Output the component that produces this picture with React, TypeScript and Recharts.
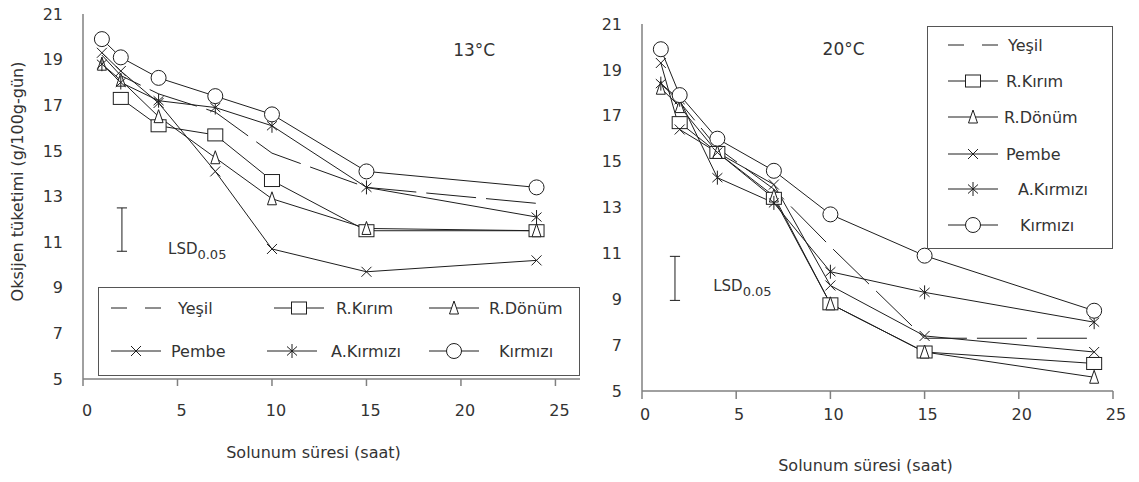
import React from 'react';
import { LineChart, Line, XAxis, YAxis, Legend, ReferenceLine, ReferenceDot } from 'recharts';

const FONT = '"DejaVu Sans", sans-serif';
const INK = '#1e1e1e';
const AXIS = '#808080';

// sampling times (saat)
const hours = [1, 2, 4, 7, 10, 15, 24];
const xTicks = [0, 5, 10, 15, 20, 25];
const yTicks = [5, 7, 9, 11, 13, 15, 17, 19, 21];

// 13°C
const yesil13 = [19.2, 18.3, 17.5, 16.7, 14.9, 13.4, 12.7];
const rKirim13 = [null, 17.3, 16.1, 15.7, 13.7, 11.5, 11.5];
const rDonum13 = [18.8, 18.1, 16.5, 14.7, 12.9, 11.6, 11.5];
const pembe13 = [19.3, 18.5, 17.1, 14.1, 10.7, 9.7, 10.2];
const aKirmizi13 = [18.8, 18.0, 17.2, 16.9, 16.1, 13.4, 12.1];
const kirmizi13 = [19.9, 19.1, 18.2, 17.4, 16.6, 14.1, 13.4];

// 20°C
const yesil20 = [18.4, 17.6, 15.6, 13.8, 11.3, 7.3, 7.3];
const rKirim20 = [null, 16.7, 15.4, 13.4, 8.8, 6.7, 6.2];
const rDonum20 = [18.2, 17.4, 15.4, 13.5, 8.8, 6.7, 5.6];
const pembe20 = [19.3, 16.4, 15.4, 14.0, 9.6, 7.4, 6.7];
const aKirmizi20 = [18.4, 17.7, 14.3, 13.2, 10.2, 9.3, 8.0];
const kirmizi20 = [19.9, 17.9, 16.0, 14.6, 12.7, 10.9, 8.5];

// LSD 0.05 bars: x position, low, high
const lsd13 = { x: 2.06, low: 10.6, high: 12.5 };
const lsd20 = { x: 1.75, low: 8.95, high: 10.87 };

type Shape = 'none' | 'square' | 'triangle' | 'x' | 'star' | 'circle';

const SERIES: { key: string; name: string; shape: Shape }[] = [
  { key: 'yesil', name: 'Yeşil', shape: 'none' },
  { key: 'rKirim', name: 'R.Kırım', shape: 'square' },
  { key: 'rDonum', name: 'R.Dönüm', shape: 'triangle' },
  { key: 'pembe', name: 'Pembe', shape: 'x' },
  { key: 'aKirmizi', name: 'A.Kırmızı', shape: 'star' },
  { key: 'kirmizi', name: 'Kırmızı', shape: 'circle' },
];

function buildRows(cols: Record<string, (number | null)[]>) {
  return hours.map((h, i) => {
    const row: Record<string, number | null> = { h };
    Object.keys(cols).forEach((k) => {
      row[k] = cols[k][i];
    });
    return row;
  });
}

const rows13 = buildRows({
  yesil: yesil13, rKirim: rKirim13, rDonum: rDonum13,
  pembe: pembe13, aKirmizi: aKirmizi13, kirmizi: kirmizi13,
});
const rows20 = buildRows({
  yesil: yesil20, rKirim: rKirim20, rDonum: rDonum20,
  pembe: pembe20, aKirmizi: aKirmizi20, kirmizi: kirmizi20,
});

function Marker({ shape, cx, cy }: { shape: Shape; cx: number; cy: number }) {
  switch (shape) {
    case 'circle':
      return <circle cx={cx} cy={cy} r={7.5} fill="#fff" stroke={INK} strokeWidth={1} />;
    case 'square':
      return <rect x={cx - 7.5} y={cy - 6} width={15} height={12} fill="#fff" stroke={INK} strokeWidth={1} />;
    case 'triangle':
      return (
        <path d={`M${cx},${cy - 7}L${cx + 4.5},${cy + 6}L${cx - 4.5},${cy + 6}Z`} fill="#fff" stroke={INK} strokeWidth={1} />
      );
    case 'x':
      return (
        <path d={`M${cx - 5},${cy - 5}L${cx + 5},${cy + 5}M${cx + 5},${cy - 5}L${cx - 5},${cy + 5}`} fill="none" stroke={INK} strokeWidth={1} />
      );
    case 'star':
      return (
        <path
          d={`M${cx - 5},${cy - 4.5}L${cx + 5},${cy + 4.5}M${cx + 5},${cy - 4.5}L${cx - 5},${cy + 4.5}M${cx},${cy - 7}L${cx},${cy + 7}`}
          fill="none"
          stroke={INK}
          strokeWidth={1}
        />
      );
    default:
      return null;
  }
}

function LegendSample({ shape }: { shape: Shape }) {
  return (
    <svg width={50} height={18} style={{ display: 'block' }}>
      {shape === 'none' ? (
        <path d="M0,9H16M34,9H50" stroke={INK} strokeWidth={1} />
      ) : (
        <line x1={0} y1={9} x2={50} y2={9} stroke={INK} strokeWidth={1} />
      )}
      <Marker shape={shape} cx={25} cy={9} />
    </svg>
  );
}

// legend item placement inside the box: [left, centerY, textGap]
const GRID_POS: [number, number, number][] = [
  [12, 20, 17], [175, 20, 12], [330, 20, 10],
  [12, 63, 10], [168, 63, 14], [330, 63, 20],
];
const COLUMN_POS: [number, number, number][] = [
  [20, 18, 10], [20, 54, 8], [20, 90, 6],
  [20, 127, 8], [20, 162, 20], [20, 198, 22],
];

function LegendBox({ pos }: { pos: [number, number, number][] }) {
  return (
    <div
      style={{
        position: 'relative',
        width: '100%',
        height: '100%',
        boxSizing: 'border-box',
        border: '1.3px solid #555',
        background: '#fff',
        fontFamily: FONT,
        fontSize: 16,
        color: '#333',
      }}
    >
      {SERIES.map((s, i) => (
        <div
          key={s.key}
          style={{
            position: 'absolute',
            left: pos[i][0],
            top: pos[i][1] - 10,
            height: 20,
            display: 'flex',
            alignItems: 'center',
            whiteSpace: 'nowrap',
          }}
        >
          <LegendSample shape={s.shape} />
          <span style={{ marginLeft: pos[i][2] }}>{s.name}</span>
        </div>
      ))}
    </div>
  );
}

function lsdLines(l: { x: number; low: number; high: number }) {
  const w = 0.27;
  return [
    <ReferenceLine key="v" segment={[{ x: l.x, y: l.low }, { x: l.x, y: l.high }]} stroke={INK} strokeWidth={1} />,
    <ReferenceLine key="t" segment={[{ x: l.x - w, y: l.high }, { x: l.x + w, y: l.high }]} stroke={INK} strokeWidth={1} />,
    <ReferenceLine key="b" segment={[{ x: l.x - w, y: l.low }, { x: l.x + w, y: l.low }]} stroke={INK} strokeWidth={1} />,
  ];
}

const lsdLabel = (props: any) => {
  const { x, y } = props.viewBox;
  return (
    <text x={x} y={y} fill="#333" fontSize={15} fontFamily={FONT}>
      LSD
      <tspan fontSize={13} dy={5}>0.05</tspan>
    </text>
  );
};

const tempLabel = (txt: string) => (props: any) => {
  const { x, y } = props.viewBox;
  return (
    <text x={x} y={y} fill="#333" fontSize={17} fontFamily={FONT} textAnchor="middle" dominantBaseline="central">
      {txt}
    </text>
  );
};

const xTitle = (dx: number, dy: number) => (props: any) => {
  const vb = props.viewBox;
  return (
    <text x={vb.x + vb.width / 2 + dx} y={vb.y + dy} fill="#333" fontSize={16} fontFamily={FONT} textAnchor="middle">
      Solunum süresi (saat)
    </text>
  );
};

const yTitle = (props: any) => {
  const vb = props.viewBox;
  const x = vb.x + 17;
  const y = vb.y + vb.height / 2 - 15;
  return (
    <text
      x={x}
      y={y}
      fill="#333"
      fontSize={16}
      fontFamily={FONT}
      textAnchor="middle"
      dominantBaseline="central"
      transform={`rotate(-90, ${x}, ${y})`}
    >
      Oksijen tüketimi (g/100g-gün)
    </text>
  );
};

function renderSeries(prefix: string) {
  return SERIES.map((s) => (
    <Line
      key={s.key}
      type="linear"
      dataKey={s.key}
      name={s.name}
      stroke={INK}
      strokeWidth={1}
      strokeDasharray={s.shape === 'none' ? '50 10' : undefined}
      activeDot={false}
      isAnimationActive={false}
      dot={(p: any) =>
        p.cx == null || p.cy == null || p.value == null ? (
          <g key={`${prefix}-${s.key}-${p.index}`} />
        ) : (
          <g key={`${prefix}-${s.key}-${p.index}`}>
            <Marker shape={s.shape} cx={p.cx} cy={p.cy} />
          </g>
        )
      }
    />
  ));
}

const tickStyle = { fill: '#333', fontSize: 16, fontFamily: FONT };

export default function App() {
  return (
    <div style={{ position: 'absolute', left: 0, top: 0, width: 1139, height: 482, background: '#fff', fontFamily: FONT }}>
      <div style={{ position: 'absolute', left: 0, top: 0 }}>
        <LineChart width={590} height={482} data={rows13} margin={{ top: 14, right: 10, bottom: 0, left: 0 }}>
          <XAxis
            type="number"
            dataKey="h"
            domain={[0, 26.3]}
            ticks={xTicks}
            height={103}
            tickSize={7}
            tickMargin={19}
            tick={{ ...tickStyle, dx: 4 }}
            axisLine={{ stroke: AXIS, strokeWidth: 1.5 }}
            tickLine={{ stroke: AXIS, strokeWidth: 1.5 }}
            label={xTitle(-18, 79)}
          />
          <YAxis
            type="number"
            domain={[5, 21]}
            ticks={yTicks}
            width={83}
            tickLine={false}
            tickMargin={14}
            tick={tickStyle}
            axisLine={{ stroke: AXIS, strokeWidth: 1.5 }}
            label={yTitle}
          />
          {lsdLines(lsd13)}
          <ReferenceDot x={4.5} y={10.48} r={0} fill="none" stroke="none" label={lsdLabel} />
          <ReferenceDot x={20.7} y={19.43} r={0} fill="none" stroke="none" label={tempLabel('13°C')} />
          {renderSeries('a')}
          <Legend
            layout="horizontal"
            verticalAlign="middle"
            align="center"
            wrapperStyle={{ left: 98, top: 287, width: 482, height: 89 }}
            content={() => <LegendBox pos={GRID_POS} />}
          />
        </LineChart>
      </div>
      <div style={{ position: 'absolute', left: 590, top: 0 }}>
        <LineChart width={549} height={482} data={rows20} margin={{ top: 24, right: 26, bottom: 0, left: 0 }}>
          <XAxis
            type="number"
            dataKey="h"
            domain={[0, 25]}
            ticks={xTicks}
            height={91}
            tickSize={8}
            tickMargin={10}
            tick={{ ...tickStyle, dx: 3 }}
            axisLine={{ stroke: AXIS, strokeWidth: 1.5 }}
            tickLine={{ stroke: AXIS, strokeWidth: 1.5 }}
            label={xTitle(-12, 80)}
          />
          <YAxis
            type="number"
            domain={[5, 21]}
            ticks={yTicks}
            width={52}
            tickLine={false}
            tickMargin={14}
            tick={tickStyle}
            axisLine={{ stroke: AXIS, strokeWidth: 1.5 }}
          />
          {lsdLines(lsd20)}
          <ReferenceDot x={3.78} y={9.34} r={0} fill="none" stroke="none" label={lsdLabel} />
          <ReferenceDot x={10.7} y={19.9} r={0} fill="none" stroke="none" label={tempLabel('20°C')} />
          {renderSeries('b')}
          <Legend
            layout="horizontal"
            verticalAlign="middle"
            align="center"
            wrapperStyle={{ left: 337, top: 26, width: 186, height: 223 }}
            content={() => <LegendBox pos={COLUMN_POS} />}
          />
        </LineChart>
      </div>
    </div>
  );
}
